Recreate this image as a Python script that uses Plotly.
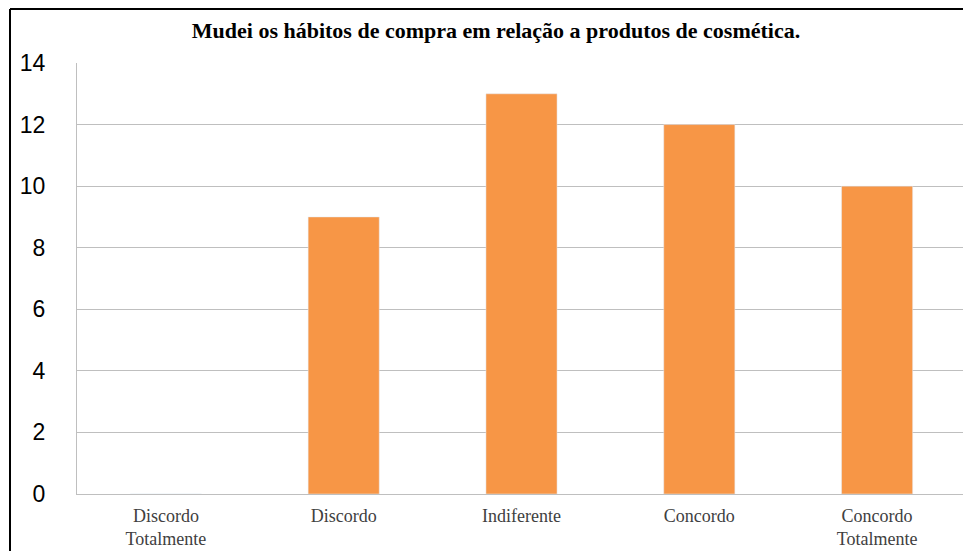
import plotly.graph_objects as go

categories = ["Discordo<br>Totalmente", "Discordo", "Indiferente", "Concordo", "Concordo<br>Totalmente"]
values = [0, 9, 13, 12, 10]
y_ticks = [0, 2, 4, 6, 8, 10, 12, 14]
title_text = "Mudei os hábitos de compra em relação a produtos de cosmética."

# page body has an 8px margin, so the figure is shifted by 8px
OFF = 8
W, H = 971 - OFF, 551 - OFF
L, R, T, B = 77 - OFF, 5, 63 - OFF, 57
pw, ph = W - L - R, H - T - B

fig = go.Figure(go.Bar(x=categories, y=values, marker_color="#F79646", width=0.4))

fig.update_layout(
    width=W, height=H,
    margin=dict(l=L, r=R, t=T, b=B, autoexpand=False),
    paper_bgcolor="white", plot_bgcolor="white",
    showlegend=False,
    title=dict(text="<b>" + title_text + "</b>", x=(496 - 77) / pw, xref="paper", xanchor="center",
               y=1 - (30 - OFF) / H, yanchor="middle",
               font=dict(family="Liberation Serif", size=22, color="black")),
    xaxis=dict(showgrid=False, showline=True, linecolor="#BFBFBF", linewidth=1, automargin=False,
               tickfont=dict(family="Liberation Serif", size=18, color="#404040"),
               ticks="", ticklabelstandoff=5),
    yaxis=dict(range=[0, 14], tickvals=y_ticks, showgrid=True, gridcolor="#BFBFBF", gridwidth=1,
               showline=True, linecolor="#BFBFBF", linewidth=1, zeroline=False, automargin=False,
               tickfont=dict(family="Liberation Sans", size=23, color="black"),
               ticks="", ticklabelstandoff=26),
    shapes=[
        dict(type="line", xref="paper", yref="paper",
             x0=(10 - 77) / pw, x1=(W + 20 - L) / pw,
             y0=1 + (63 - 9) / ph, y1=1 + (63 - 9) / ph,
             line=dict(color="black", width=2)),
        dict(type="line", xref="paper", yref="paper",
             x0=(10 - 77) / pw, x1=(10 - 77) / pw,
             y0=1 + (63 - 9) / ph, y1=-(B + 20) / ph,
             line=dict(color="black", width=2)),
    ],
)

fig.write_html("out.html")
